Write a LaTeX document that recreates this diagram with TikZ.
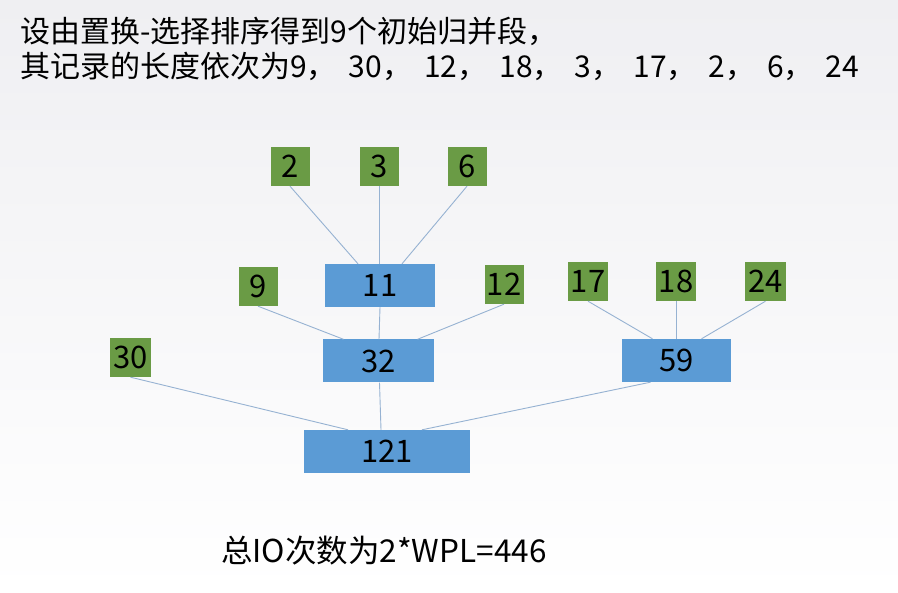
\documentclass[tikz,border=0pt]{standalone}
\usepackage{fontspec}
\setmainfont{Noto Sans CJK SC}
\definecolor{leafgreen}{RGB}{106,155,69}
\definecolor{sumblue}{RGB}{91,155,213}
\definecolor{edgeblue}{RGB}{150,178,210}
\definecolor{bgtop}{RGB}{239,239,242}
\newcommand{\gapc}{，\hspace{12pt}}
\begin{document}
\begin{tikzpicture}[x=1pt,y=-1pt,
  leaf/.style={fill=leafgreen,draw=none,inner sep=0pt,minimum width=39pt,minimum height=39pt,
    font=\fontsize{31}{34}\selectfont,text height=22.5pt,text depth=0pt},
  sumbox/.style={fill=sumblue,draw=none,inner sep=0pt,minimum height=43pt,
    font=\fontsize{31}{34}\selectfont,text height=22.5pt,text depth=0pt},
  edge/.style={draw=edgeblue,line width=0.9pt},
  caption/.style={anchor=base west,inner sep=0pt,font=\fontsize{30}{35}\selectfont}]
\shade[top color=bgtop,bottom color=white] (0,0) rectangle (898,593);
\useasboundingbox (0,0) rectangle (898,593);
\node[caption] (title1) at (20,43) {设由置换-选择排序得到9个初始归并段，};
\node[caption] (title2) at (20,78) {其记录的长度依次为9\gapc 30\gapc 12\gapc 18\gapc 3\gapc 17\gapc 2\gapc 6\gapc 24};
% leaves
\node[leaf] (l2) at (290,166.5) {2};
\node[leaf] (l3) at (379.5,166.5) {3};
\node[leaf] (l6) at (467,166.5) {6};
\node[leaf] (l9) at (258,286.5) {9};
\node[leaf] (l12) at (504,284.5) {12};
\node[leaf,minimum width=41pt] (l30) at (130.5,357.5) {30};
\node[leaf,minimum width=40pt] (l17) at (588,281.5) {17};
\node[leaf,minimum width=40pt] (l18) at (676,281.5) {18};
\node[leaf,minimum width=41pt] (l24) at (765.5,281.5) {24};
% internal
\node[sumbox,minimum width=110pt] (n11) at (380,285.5) {11};
\node[sumbox,minimum width=111pt] (n32) at (378.5,361) {32};
\node[sumbox,minimum width=109pt] (n59) at (676.5,360.5) {59};
\node[sumbox,minimum width=166pt] (n121) at (387,451.5) {121};
% edges
\draw[edge] (l2.south) -- ([xshift=-22pt]n11.north);
\draw[edge] (l3.south) -- ([xshift=-0.5pt]n11.north);
\draw[edge] (l6.south) -- ([xshift=22pt]n11.north);
\draw[edge] (l9.south) -- ([xshift=-35pt]n32.north);
\draw[edge] (n11.south) -- ([xshift=0.5pt]n32.north);
\draw[edge] (l12.south) -- ([xshift=39pt]n32.north);
\draw[edge] (l17.south) -- ([xshift=-24pt]n59.north);
\draw[edge] (l18.south) -- ([xshift=-0.5pt]n59.north);
\draw[edge] (l24.south) -- ([xshift=25pt]n59.north);
\draw[edge] (l30.south) -- ([xshift=-39pt]n121.north);
\draw[edge] ([xshift=1pt]n32.south) -- ([xshift=-6pt]n121.north);
\draw[edge] ([xshift=-26pt]n59.south) -- ([xshift=35pt]n121.north);
\node[anchor=base west,inner sep=0pt,font=\fontsize{31.5}{34}\selectfont] (total) at (221,563) {总IO次数为2*WPL=446};
\end{tikzpicture}
\end{document}
